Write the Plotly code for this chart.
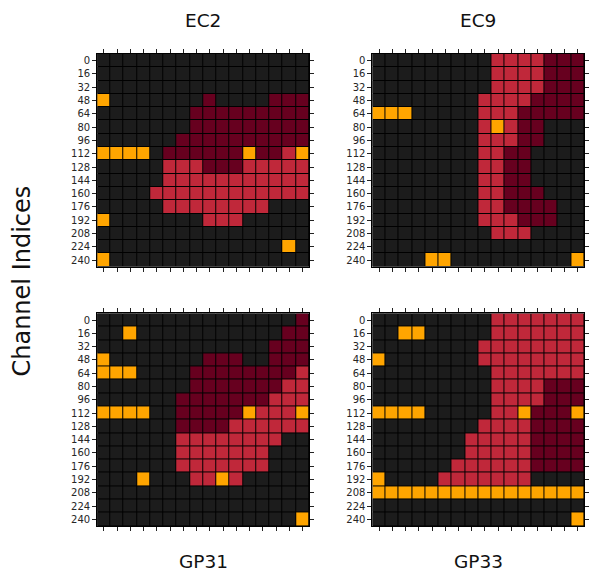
import plotly.graph_objects as go

# Channel index labels (one row per block of 16 channels)
channel_labels = [0, 16, 32, 48, 64, 80, 96, 112, 128, 144, 160, 176, 192, 208, 224, 240]
column_index = list(range(16))

# Cell states per row: '.' inactive, 'o' flagged, 'd' strong, 'r' moderate
ec2_rows = [
    "................",
    "................",
    "................",
    "o.......d....ddd",
    ".......ddddddddd",
    ".......ddddddddd",
    "......dddddddddd",
    "oooo.ddddddoddro",
    ".....rrrdddrrrrr",
    ".....rrrrrrrrrrr",
    "....rrrrrrrrrrrr",
    ".....rrrrrrrr...",
    "o.......rrr.....",
    "................",
    "..............o.",
    "o...............",
]
ec9_rows = [
    ".........rrrrddd",
    ".........rrrrddd",
    ".........rrrrddd",
    "........rrrrdddd",
    "ooo.....rrrddddd",
    "........rordd...",
    "........rrrdd...",
    "........rrdd....",
    "........rrdd....",
    "........rrdd....",
    "........rrddd...",
    "........rrdddd..",
    "........rrrddd..",
    ".........rrr....",
    "................",
    "....oo.........o",
]
gp31_rows = [
    "...............d",
    "..o...........dd",
    ".............ddd",
    "o.......ddd..ddd",
    "ooo....ddddddddr",
    ".......dddddddrr",
    "......dddddddrrr",
    "oooo..dddddorrro",
    "......ddddrrrrrr",
    "......rrrrrrrr..",
    "......rrrrrrr...",
    "......rrrrrrr...",
    "...o...rror.....",
    "................",
    "................",
    "...............o",
]
gp33_rows = [
    ".........rrrrrrr",
    "..oo.....rrrrrrr",
    "........rrrrrrrr",
    "o.......rrrrrrrr",
    ".........rrrrrrr",
    ".........rrrrddd",
    ".........rrrrddd",
    "oooo.....rrodddo",
    "........rrrrdddd",
    ".......rrrrrdddd",
    ".......rrrrrdddd",
    "......rrrrrrdddd",
    "o....rrrrrrr....",
    "oooooooooooooooo",
    "................",
    "...............o",
]

panel_names = ["EC2", "EC9", "GP31", "GP33"]
panel_rows = [ec2_rows, ec9_rows, gp31_rows, gp33_rows]

state_code = {".": 0, "d": 1, "r": 2, "o": 3}
state_colors = ["#1c1c1c", "#67001f", "#c0283a", "#ffa500"]

# Discrete colorscale with hard steps for the four states
colorscale = []
n = len(state_colors)
for i, c in enumerate(state_colors):
    colorscale.append([i / n, c])
    colorscale.append([(i + 1) / n, c])

# Panel placement in paper coordinates
x_domains = [[0.1659, 0.5275], [0.6355, 0.9971]]
y_domains = [[0.5337, 0.9056], [0.0804, 0.4521]]

fig = go.Figure()
font_family = "DejaVu Sans"

for k, (name, rows) in enumerate(zip(panel_names, panel_rows)):
    r, c = divmod(k, 2)
    ax = "" if k == 0 else str(k + 1)
    z = [[state_code[ch] for ch in row] for row in rows]
    fig.add_trace(go.Heatmap(
        z=z, x=column_index, y=channel_labels,
        colorscale=colorscale, zmin=-0.5, zmax=n - 0.5,
        showscale=False, xgap=1, ygap=1, hoverinfo="skip",
        xaxis="x" + ax, yaxis="y" + ax,
    ))
    fig.layout["xaxis" + ax] = dict(
        domain=x_domains[c], anchor="y" + ax, range=[-0.5, 15.5],
        tickvals=column_index, showticklabels=False,
        ticks="outside", ticklen=4, tickwidth=1, tickcolor="#222",
        mirror="ticks", showline=True, linecolor="#000", linewidth=1,
        showgrid=False, zeroline=False,
    )
    fig.layout["yaxis" + ax] = dict(
        domain=y_domains[r], anchor="x" + ax, range=[248, -8],
        tickvals=channel_labels, ticktext=[str(v) for v in channel_labels],
        ticks="outside", ticklen=4, tickwidth=1, tickcolor="#222",
        mirror="ticks", showline=True, linecolor="#000", linewidth=1,
        tickfont=dict(family=font_family, size=10, color="#262626"),
        showgrid=False, zeroline=False,
    )
    xm = sum(x_domains[c]) / 2
    ty = 0.965 if r == 0 else 0.0175
    fig.add_annotation(
        text=name, x=xm, y=ty, xref="paper", yref="paper",
        showarrow=False, xanchor="center", yanchor="middle",
        font=dict(family=font_family, size=18.5, color="#111"),
    )

fig.add_annotation(
    text="Channel Indices", x=0.037, y=0.509, xref="paper", yref="paper",
    showarrow=False, textangle=-90, xanchor="center", yanchor="middle",
    font=dict(family=font_family, size=24, color="#111"),
)

fig.update_layout(
    width=589, height=572,
    margin=dict(l=0, r=0, t=0, b=0),
    paper_bgcolor="white", plot_bgcolor="#000000",
    showlegend=False,
)

fig.write_html("out.html")
